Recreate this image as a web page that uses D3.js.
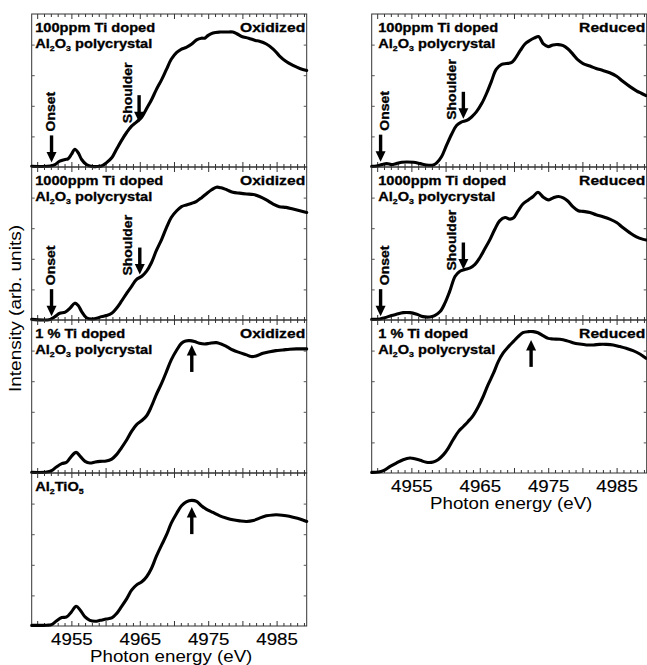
<!DOCTYPE html>
<html><head><meta charset="utf-8">
<script src="https://cdn.jsdelivr.net/npm/d3@7"></script>
<style>body{margin:0;background:#fff}svg{display:block}</style>
</head><body><svg id="c" width="647" height="665"></svg>
<script>
// ---------- data ----------
const xDomain=[4949.2,4989.4];
const tickValues=[4955,4965,4975,4985];
const tickLabels=["4955","4965","4975","4985"];
const xAxisTitle="Photon energy (eV)";
const yAxisTitle="Intensity (arb. units)";

// 100ppm oxidized
const e100Ox=[4949.2,4951.9,4952.6,4953.3,4954.1,4954.5,4955.0,4955.5,4956.0,4956.5,4957.2,4958.0,4958.7,4959.4,4960.1,4960.9,4961.6,4962.3,4963.1,4963.8,4964.5,4965.3,4966.0,4966.7,4967.4,4968.2,4968.9,4969.6,4970.4,4971.1,4971.8,4972.6,4973.3,4974.0,4974.5,4975.0,4975.7,4976.7,4977.7,4978.6,4979.2,4979.9,4980.9,4981.9,4982.5,4983.5,4984.5,4985.4,4986.4,4987.4,4988.4,4989.4];
const i100Ox=[0.005,0.006,0.016,0.038,0.049,0.053,0.082,0.116,0.093,0.049,0.016,0.003,0.003,0.006,0.027,0.06,0.116,0.171,0.227,0.267,0.293,0.327,0.382,0.438,0.504,0.571,0.638,0.704,0.749,0.771,0.782,0.804,0.831,0.842,0.842,0.86,0.876,0.882,0.882,0.882,0.871,0.853,0.842,0.827,0.822,0.804,0.771,0.727,0.689,0.664,0.644,0.631];
// 1000ppm oxidized
const e1000Ox=[4949.2,4951.9,4952.6,4953.3,4954.1,4954.8,4955.5,4956.0,4956.5,4957.2,4958.0,4958.7,4959.4,4960.1,4960.9,4961.6,4962.3,4963.1,4963.8,4964.5,4965.3,4966.0,4966.7,4967.4,4968.2,4968.9,4969.6,4970.4,4971.1,4971.8,4972.6,4973.3,4974.0,4974.7,4975.5,4976.2,4976.9,4977.7,4978.6,4979.6,4980.6,4981.6,4982.5,4983.5,4984.5,4985.4,4986.4,4987.4,4988.4,4989.4];
const i1000Ox=[0.004,0.004,0.022,0.044,0.051,0.077,0.110,0.095,0.055,0.015,0.007,0.011,0.022,0.029,0.044,0.077,0.121,0.176,0.22,0.264,0.286,0.319,0.374,0.451,0.527,0.604,0.67,0.714,0.741,0.752,0.763,0.776,0.798,0.824,0.851,0.868,0.864,0.851,0.835,0.829,0.824,0.82,0.807,0.785,0.758,0.741,0.736,0.725,0.714,0.703];
// 1% oxidized
const e1pctOx=[4949.2,4951.4,4952.1,4952.8,4953.6,4954.3,4955.0,4955.7,4956.3,4957.0,4957.7,4958.5,4959.2,4960.1,4960.9,4961.6,4962.3,4963.1,4963.8,4964.5,4965.3,4966.0,4966.7,4967.4,4968.2,4968.9,4969.6,4970.4,4971.1,4971.7,4972.3,4973.0,4973.7,4974.5,4975.2,4976.2,4976.9,4977.7,4978.6,4979.6,4980.6,4981.3,4982.0,4983.0,4984.0,4984.9,4985.9,4986.9,4987.9,4988.9,4989.4];
const i1pctOx=[0.004,0.006,0.015,0.039,0.061,0.07,0.109,0.135,0.109,0.076,0.065,0.072,0.076,0.078,0.091,0.12,0.163,0.217,0.272,0.315,0.343,0.374,0.435,0.511,0.587,0.663,0.739,0.804,0.848,0.863,0.865,0.859,0.848,0.843,0.848,0.852,0.843,0.826,0.804,0.787,0.772,0.761,0.765,0.783,0.793,0.8,0.804,0.809,0.811,0.811,0.811];
// Al2TiO5
const eAl2TiO5=[4949.2,4951.4,4952.1,4952.8,4953.6,4954.3,4955.0,4955.7,4956.3,4957.0,4957.7,4958.5,4959.2,4960.1,4960.9,4961.6,4962.3,4963.1,4963.8,4964.5,4965.3,4966.0,4966.7,4967.4,4968.2,4968.9,4969.6,4970.4,4971.1,4971.8,4972.6,4973.3,4974.0,4974.7,4975.7,4976.7,4977.7,4978.6,4979.6,4980.6,4981.6,4982.5,4983.5,4984.5,4985.4,4986.4,4987.4,4988.4,4989.4];
const iAl2TiO5=[0.004,0.005,0.009,0.033,0.055,0.059,0.092,0.129,0.103,0.059,0.037,0.031,0.037,0.046,0.053,0.081,0.125,0.179,0.234,0.267,0.289,0.322,0.376,0.453,0.53,0.595,0.672,0.737,0.786,0.812,0.821,0.814,0.786,0.764,0.742,0.72,0.705,0.694,0.687,0.683,0.689,0.705,0.72,0.726,0.726,0.72,0.711,0.7,0.683];
// 100ppm reduced
const e100Red=[4949.2,4949.9,4950.7,4951.4,4952.1,4952.8,4953.6,4954.3,4955.3,4956.3,4957.2,4958.2,4958.7,4959.4,4960.1,4960.9,4961.6,4962.3,4963.1,4963.8,4964.5,4965.3,4966.0,4966.7,4967.4,4968.2,4968.9,4969.6,4970.1,4970.9,4971.6,4972.3,4973.0,4973.6,4974.3,4975.0,4975.7,4976.5,4977.2,4977.9,4978.6,4979.4,4980.1,4981.1,4982.0,4983.0,4984.0,4985.0,4985.9,4986.9,4987.9,4988.6,4989.3];
const i100Red=[0.004,0.006,0.016,0.022,0.016,0.022,0.031,0.033,0.031,0.022,0.013,0.013,0.027,0.067,0.138,0.216,0.271,0.293,0.304,0.327,0.36,0.416,0.482,0.56,0.638,0.671,0.676,0.682,0.704,0.76,0.804,0.827,0.844,0.853,0.804,0.787,0.798,0.8,0.793,0.771,0.738,0.698,0.676,0.66,0.644,0.631,0.616,0.593,0.56,0.527,0.498,0.482,0.467];
// 1000ppm reduced
const e1000Red=[4949.2,4950.4,4951.1,4952.1,4952.8,4953.8,4954.8,4955.8,4956.7,4957.7,4958.4,4959.2,4959.9,4960.6,4961.4,4962.1,4962.8,4963.6,4964.3,4965.0,4965.7,4966.5,4967.2,4967.9,4968.7,4969.4,4969.9,4970.6,4971.3,4972.1,4972.8,4973.5,4974.3,4975.0,4975.7,4976.5,4977.2,4977.9,4978.6,4979.4,4980.1,4981.1,4982.0,4983.0,4984.0,4985.0,4985.9,4986.9,4987.9,4988.9,4989.3];
const i1000Red=[0.004,0.007,0.015,0.029,0.037,0.048,0.048,0.037,0.022,0.02,0.029,0.055,0.11,0.187,0.286,0.319,0.33,0.341,0.363,0.407,0.462,0.527,0.593,0.648,0.67,0.659,0.666,0.714,0.758,0.785,0.807,0.835,0.802,0.785,0.798,0.807,0.798,0.776,0.741,0.714,0.71,0.703,0.688,0.675,0.659,0.637,0.604,0.571,0.543,0.527,0.523];
// 1% reduced
const e1pctRed=[4949.2,4950.2,4950.9,4951.9,4952.8,4953.8,4954.8,4955.5,4956.3,4957.2,4958.2,4958.9,4959.7,4960.4,4961.1,4961.9,4962.6,4963.3,4964.0,4964.8,4965.5,4966.2,4967.0,4967.7,4968.4,4969.2,4969.9,4970.6,4971.3,4972.1,4972.8,4973.5,4974.3,4975.0,4975.7,4976.7,4977.7,4978.6,4979.6,4980.6,4981.6,4982.5,4983.5,4984.5,4985.5,4986.4,4987.4,4988.4,4989.3];
const i1pctRed=[0.004,0.006,0.015,0.043,0.065,0.087,0.098,0.093,0.083,0.07,0.072,0.087,0.12,0.163,0.217,0.272,0.304,0.337,0.374,0.435,0.5,0.576,0.652,0.728,0.783,0.826,0.859,0.891,0.917,0.924,0.924,0.917,0.896,0.88,0.876,0.874,0.865,0.852,0.843,0.837,0.837,0.841,0.841,0.837,0.826,0.815,0.8,0.778,0.75];

const sampleNames=["100ppm Ti doped","1000ppm Ti doped","1 % Ti doped"];
const hostParts=[["Al",0],["2",1],["O",0],["3",1],[" polycrystal",0]];
const refParts=[["Al",0],["2",1],["TiO",0],["5",1]];
const states=["Oxidized","Reduced"];

// ---------- layout ----------
const svg=d3.select("#c");
const FONT='"Liberation Sans", Arial, Helvetica, sans-serif';
const SX=1.17;
const colX=[31.7,371.7], panelW=275, panelH=153, top0=14;
const x=d3.scaleLinear().domain(xDomain).range([0,panelW]);

const panels=[
 {col:0,row:0,E:e100Ox,I:i100Ox,l1:[[sampleNames[0],0]],l2:hostParts,state:states[0],
  ann:[{t:"Onset",E:4952.1,v:0.03},{t:"Shoulder",E:4964.9,v:0.293}]},
 {col:0,row:1,E:e1000Ox,I:i1000Ox,l1:[[sampleNames[1],0]],l2:hostParts,state:states[0],
  ann:[{t:"Onset",E:4952.1,v:0.025},{t:"Shoulder",E:4965.0,v:0.297}]},
 {col:0,row:2,E:e1pctOx,I:i1pctOx,l1:[[sampleNames[2],0]],l2:hostParts,state:states[0],
  ann:[{t:"up",E:4972.6,v:0.837}]},
 {col:0,row:3,E:eAl2TiO5,I:iAl2TiO5,l1:refParts,l2:null,state:null,
  ann:[{t:"up",E:4972.6,v:0.777}]},
 {col:1,row:0,E:e100Red,I:i100Red,l1:[[sampleNames[0],0]],l2:hostParts,state:states[1],
  ann:[{t:"Onset",E:4950.5,v:0.035},{t:"Shoulder",E:4962.6,v:0.315}]},
 {col:1,row:1,E:e1000Red,I:i1000Red,l1:[[sampleNames[1],0]],l2:hostParts,state:states[1],
  ann:[{t:"Onset",E:4950.5,v:0.025},{t:"Shoulder",E:4962.6,v:0.33}]},
 {col:1,row:2,E:e1pctRed,I:i1pctRed,l1:[[sampleNames[2],0]],l2:hostParts,state:states[1],
  ann:[{t:"up",E:4972.5,v:0.87}]}
];

function addText(g,px,py,parts,o){
  const t=g.append("text")
    .attr("transform",`translate(${px},${py}) rotate(${o.rot||0}) scale(${o.sx||SX},1)`)
    .attr("font-family",FONT).attr("font-size",o.size)
    .attr("font-weight",o.weight||"normal")
    .attr("text-anchor",o.anchor||"start").attr("fill","#000");
  if(o.weight==="bold") t.attr("stroke","#000").attr("stroke-width",0.3);
  let sub=false;
  parts.forEach(([s,isSub])=>{
    const ts=t.append("tspan").text(s);
    if(isSub){ts.attr("font-size",o.size*0.6).attr("dy",sub?0:3);sub=true;}
    else {if(sub){ts.attr("dy",-3);} sub=false;}
  });
  return t;
}

function arrow(g,ax,tipY,dir){
  // dir=1 : pointing down (tip at bottom); dir=-1: pointing up
  const L=27, hh=10.5, hw=5;
  g.append("line").attr("x1",ax).attr("x2",ax)
    .attr("y1",tipY-dir*L).attr("y2",tipY-dir*(hh-1))
    .attr("stroke","#000").attr("stroke-width",3.4);
  g.append("path").attr("d",`M${ax-hw},${tipY-dir*hh}L${ax+hw},${tipY-dir*hh}L${ax},${tipY}Z`)
    .attr("fill","#000");
}

panels.forEach(p=>{
  const left=colX[p.col], top=top0+p.row*panelH, bottom=top+panelH;
  const g=svg.append("g").attr("transform",`translate(${left},0)`);
  const y=d3.scaleLinear().domain([0,1]).range([bottom,top]);

  // border
  g.append("rect").attr("x",0).attr("y",top).attr("width",panelW).attr("height",panelH)
    .attr("fill","none").attr("stroke","#333").attr("stroke-width",1);

  // x ticks (inward, top and bottom)
  const minor=d3.range(4950,4990).filter(v=>v%5!==0), major=d3.range(4950,4990,5);
  [[minor,3],[major,5]].forEach(([vals,len])=>{
    g.append("g").attr("transform",`translate(0,${bottom})`)
      .call(d3.axisBottom(x).tickValues(vals).tickSize(-len).tickFormat(""))
      .call(a=>a.select(".domain").remove())
      .call(a=>a.selectAll("line").attr("stroke","#333"));
    g.append("g").attr("transform",`translate(0,${top})`)
      .call(d3.axisTop(x).tickValues(vals).tickSize(-len).tickFormat(""))
      .call(a=>a.select(".domain").remove())
      .call(a=>a.selectAll("line").attr("stroke","#333"));
  });
  // y ticks (inward, left and right)
  const yv=[0.2,0.4,0.6,0.8];
  g.append("g").call(d3.axisLeft(y).tickValues(yv).tickSize(-3).tickFormat(""))
    .call(a=>a.select(".domain").remove()).call(a=>a.selectAll("line").attr("stroke","#555"));
  g.append("g").attr("transform",`translate(${panelW},0)`)
    .call(d3.axisRight(y).tickValues(yv).tickSize(-3).tickFormat(""))
    .call(a=>a.select(".domain").remove()).call(a=>a.selectAll("line").attr("stroke","#555"));

  // curve
  const pts=d3.zip(p.E,p.I);
  g.append("path").datum(pts)
    .attr("d",d3.line().x(d=>x(d[0])).y(d=>y(d[1])).curve(d3.curveCatmullRom.alpha(0.5)))
    .attr("fill","none").attr("stroke","#000").attr("stroke-width",3.1)
    .attr("stroke-linejoin","round").attr("stroke-linecap","round");

  // labels
  const inset=p.col===0?3.5:6.5;
  addText(g,inset,top+17.5,p.l1,{size:12.5,weight:"bold"});
  if(p.l2) addText(g,inset,top+34,p.l2,{size:12.5,weight:"bold"});
  if(p.state) addText(g,panelW-1.5,top+17.5,[[p.state,0]],{size:13.5,weight:"bold",anchor:"end",sx:1.16});

  // annotations
  p.ann.forEach(a=>{
    const ax=x(a.E), ty=y(a.v);
    if(a.t==="up"){ arrow(g,ax,ty,-1); return; }
    arrow(g,ax,ty,1);
    if(a.t==="Onset"){
      const dx=p.col===0?3.5:8;
      addText(g,ax+dx,ty-31,[["Onset",0]],{size:12.5,weight:"bold",rot:-90,sx:1.12});
    } else {
      addText(g,ax-7.5,ty+1,[["Shoulder",0]],{size:12.5,weight:"bold",rot:-90,sx:1.12});
    }
  });

  // bottom tick labels + axis title on last panel of each column
  const last=(p.col===0&&p.row===3)||(p.col===1&&p.row===2);
  if(last){
    g.append("g").attr("transform",`translate(0,${bottom})`)
      .call(d3.axisBottom(x).tickValues(tickValues).tickSize(0).tickFormat((d,i)=>tickLabels[i]))
      .call(a=>a.select(".domain").remove())
      .call(a=>a.selectAll("text").attr("y",19).attr("dy",null)
        .attr("font-family",FONT).attr("font-size",16).attr("fill","#000")
        .attr("stroke","#000").attr("stroke-width",0.15)
        .attr("transform",`scale(${SX},1)`));
    addText(g,panelW/2+2,bottom+36,[[xAxisTitle,0]],{size:16,anchor:"middle",sx:1.17});
  }
});

// y axis title
addText(svg,21,308.5,[[yAxisTitle,0]],{size:16,anchor:"middle",rot:-90,sx:1.19});
</script></body></html>
